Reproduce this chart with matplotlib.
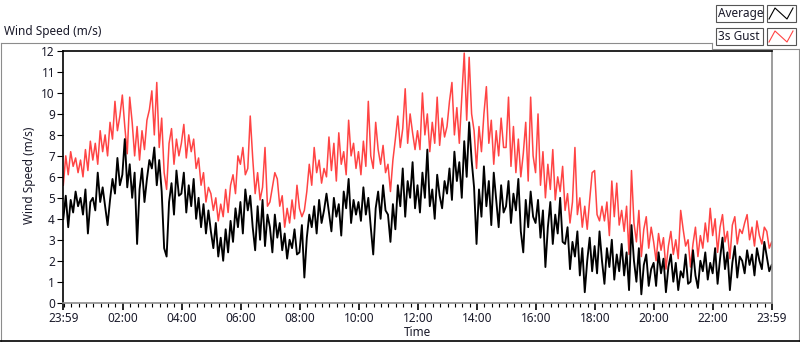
"""Wind speed over one day: 1-minute average vs 3 s gust, LabVIEW-style chart.

Values read off the reference picture at 5-minute steps. Writes out.png.
"""
import numpy as np
import matplotlib
matplotlib.use("Agg")
import matplotlib.pyplot as plt
from matplotlib.patches import Rectangle

W, H = 800, 342
STEP_MIN = 5            # one reading every 5 minutes, starting 23:59

# one row per hour, 12 readings each (m/s)
AVERAGE = [
    4.0, 5.1, 3.6, 4.9, 4.3, 5.3, 4.6, 5.0, 4.2, 5.4, 3.3, 4.8,
    5.0, 4.4, 6.2, 4.8, 5.5, 4.6, 3.7, 4.9, 5.9, 5.2, 6.9, 5.6,
    6.1, 7.8, 5.5, 6.6, 5.0, 6.2, 2.8, 5.4, 6.4, 4.8, 5.9, 6.8,
    6.4, 7.4, 5.6, 6.8, 5.3, 2.6, 2.2, 4.8, 5.7, 4.2, 6.3, 5.1,
    5.2, 6.2, 4.3, 5.6, 4.6, 5.9, 4.0, 5.0, 3.6, 4.7, 3.3, 4.4,
    3.4, 2.6, 3.8, 2.2, 3.1, 2.0, 3.5, 2.4, 3.9, 2.9, 4.5, 3.6,
    4.8, 3.3, 5.4, 4.4, 5.1, 3.6, 2.5, 4.6, 3.0, 4.9, 2.7, 4.2,
    3.6, 2.4, 4.2, 3.1, 3.8, 2.5, 3.3, 2.1, 3.0, 2.6, 3.5, 2.3,
    2.4, 3.7, 1.2, 3.1, 4.2, 3.6, 4.6, 3.3, 4.9, 3.8, 4.4, 5.2,
    4.3, 3.4, 5.0, 4.1, 4.7, 3.2, 5.3, 4.5, 5.9, 3.8, 4.9, 4.2,
    4.8, 3.9, 5.5, 4.2, 5.0, 3.6, 2.3, 4.5, 5.3, 4.0, 5.6, 4.4,
    4.2, 2.9, 4.7, 3.5, 5.6, 4.6, 6.4, 4.1, 5.8, 5.0, 6.7, 4.5,
    5.6, 4.3, 6.2, 5.0, 7.3, 4.6, 5.4, 4.0, 6.1, 5.1, 4.5, 5.8,
    5.2, 6.4, 4.9, 7.2, 5.8, 6.7, 5.0, 7.7, 6.0, 8.6, 6.8, 5.5,
    2.8, 5.4, 4.1, 6.5, 4.6, 5.8, 3.7, 6.2, 4.9, 3.6, 5.6, 4.3,
    4.6, 5.8, 3.8, 5.2, 4.4, 5.9, 3.4, 2.4, 4.9, 3.6, 5.3, 4.1,
    3.8, 4.9, 3.1, 4.4, 1.7, 3.6, 4.8, 2.8, 4.2, 3.3, 5.0, 2.9,
    2.8, 3.6, 1.6, 2.9, 2.2, 3.4, 1.3, 2.6, 0.5, 2.0, 3.1, 1.5,
    2.7, 1.4, 3.4, 2.0, 0.9, 2.6, 1.7, 3.0, 1.1, 2.3, 1.5, 2.8,
    1.3, 2.4, 0.6, 3.7, 2.0, 1.0, 2.6, 0.4, 1.8, 2.3, 0.8, 1.6,
    1.9, 0.8, 2.4, 1.4, 2.1, 0.5, 1.7, 2.3, 1.0, 1.9, 0.6, 1.5,
    1.2, 2.3, 0.9, 1.0, 2.5, 1.3, 0.7, 2.0, 1.5, 2.4, 1.1, 1.9,
    1.4, 2.6, 0.9, 2.1, 3.1, 1.6, 2.4, 0.6, 1.9, 2.7, 1.2, 2.2,
    2.0, 1.4, 2.5, 1.8, 2.3, 1.3, 2.6, 2.0, 1.6, 2.9, 2.2, 1.5,
    1.8,
]
GUST = [
    5.6, 7.0, 6.1, 7.2, 6.5, 6.9, 6.2, 6.8, 6.0, 7.3, 6.3, 7.7,
    6.8, 7.6, 6.6, 8.2, 7.2, 8.0, 7.0, 8.6, 7.8, 9.6, 8.2, 8.9,
    9.9, 8.4, 7.1, 9.8, 8.6, 7.0, 8.4, 6.8, 8.2, 7.3, 8.7, 9.2,
    10.1, 8.0, 10.5, 7.4, 8.8, 6.2, 5.4, 7.6, 8.3, 6.6, 7.8, 7.0,
    7.6, 8.5, 6.9, 8.0, 7.2, 7.8, 6.4, 6.9, 5.6, 6.2, 4.8, 5.5,
    5.2, 4.4, 5.0, 3.9, 4.7, 4.1, 5.4, 4.3, 5.6, 6.1, 5.2, 7.0,
    6.6, 7.4, 6.1, 6.4, 8.9, 6.9, 5.2, 6.2, 4.9, 5.5, 7.4, 4.6,
    4.8, 5.5, 6.2, 5.9, 4.6, 5.1, 3.6, 4.5, 3.8, 4.9, 4.0, 5.6,
    4.5, 4.1, 4.4, 5.3, 6.6, 5.6, 7.4, 6.2, 6.8, 5.7, 6.4, 6.0,
    7.9, 6.3, 7.6, 5.8, 8.1, 6.6, 7.2, 6.1, 8.7, 7.0, 7.6, 6.4,
    7.2, 6.1, 7.7, 6.5, 9.6, 7.0, 6.4, 8.6, 7.3, 6.6, 7.5, 6.2,
    6.6, 5.3, 6.8, 7.8, 8.9, 7.4, 8.3, 10.2, 7.6, 9.0, 8.1, 7.3,
    8.2, 7.3, 10.0, 8.0, 9.0, 7.2, 8.6, 7.6, 9.8, 7.5, 8.8, 7.9,
    8.4, 9.6, 10.5, 8.0, 9.3, 7.6, 9.8, 11.9, 8.7, 11.7, 9.0, 8.2,
    6.4, 8.4, 7.2, 9.0, 10.3, 7.6, 8.7, 6.6, 8.2, 7.0, 8.8, 7.4,
    7.4, 9.8, 6.5, 8.4, 6.2, 7.8, 6.0, 7.1, 8.6, 5.8, 9.8, 7.0,
    6.2, 9.0, 5.6, 7.2, 5.0, 6.6, 5.4, 7.3, 4.9, 6.0, 5.3, 6.5,
    4.4, 5.2, 3.8, 4.8, 7.4, 4.2, 5.0, 3.6, 4.6, 3.5, 4.9, 6.2,
    6.3, 4.2, 3.9, 4.6, 3.9, 4.8, 3.2, 5.8, 4.1, 5.7, 3.7, 4.4,
    3.4, 4.6, 2.3, 6.3, 3.8, 2.9, 4.4, 2.2, 3.5, 4.1, 2.6, 3.6,
    2.9, 2.0, 3.3, 2.5, 3.1, 1.6, 2.7, 3.4, 2.3, 3.0, 2.1, 4.4,
    3.5, 2.7, 3.0, 1.7, 2.8, 3.6, 2.2, 3.2, 2.6, 3.8, 2.9, 4.5,
    3.2, 4.0, 2.4, 3.6, 4.2, 2.9, 3.4, 2.1, 3.7, 4.1, 2.8, 3.5,
    3.3, 3.8, 4.2, 3.0, 3.6, 2.7, 3.9, 3.2, 2.8, 3.6, 3.4, 2.6,
    2.9,
]
TICK_MIN = [0, 121, 241, 361, 481, 601, 721, 841, 961, 1081, 1201, 1321, 1440]
TICK_LABELS = ["23:59", "02:00", "04:00", "06:00", "08:00", "10:00", "12:00",
               "14:00", "16:00", "18:00", "20:00", "22:00", "23:59"]

RED = "#FF4444"
GRAY = "#8C8C8C"
TXT = "#1A1A2A"
FS = 8.5

plt.rcParams["font.family"] = ["Noto Sans", "DejaVu Sans"]

fig = plt.figure(figsize=(W / 100, H / 100), dpi=100, facecolor="white")

# plot area in pixels: x 63..772, y 51..303
L, R, T, B = 63.3, 771.7, 51.0, 302.7
ax = fig.add_axes([L / W, 1 - B / H, (R - L) / W, (B - T) / H])

t = np.arange(len(AVERAGE)) * STEP_MIN
ax.plot(t, GUST, color=RED, lw=1.1)
ax.plot(t, AVERAGE, color="black", lw=1.35)

ax.set_xlim(0, 1440)
ax.set_ylim(0, 12)
ax.set_yticks(range(0, 13))
ax.set_xticks(TICK_MIN)
ax.set_xticklabels(TICK_LABELS)
ax.set_xticks(np.arange(1, 1440, 15), minor=True)
for s in ("top", "left"):
    ax.spines[s].set_color("black")
    ax.spines[s].set_linewidth(1.2)
for s in ("bottom", "right"):
    ax.spines[s].set_color(GRAY)
    ax.spines[s].set_linewidth(1.2)
ax.tick_params(axis="y", direction="out", length=4, width=0.8, pad=2,
               labelsize=FS, color="black", labelcolor=TXT)
ax.tick_params(axis="x", which="major", direction="out", length=5, width=1.2,
               pad=2, labelsize=FS, color="black", labelcolor=TXT)
ax.tick_params(axis="x", which="minor", direction="out", length=3, width=0.8,
               color="black")

# overlay in pixel coordinates for the frame, labels and legend
ov = fig.add_axes([0, 0, 1, 1])
ov.set_xlim(0, W)
ov.set_ylim(H, 0)
ov.axis("off")

lw = 0.8
ov.plot([0.5, 711.5], [42.5, 42.5], color=GRAY, lw=lw)
ov.plot([0.5, 0.5], [42.5, 341.5], color=GRAY, lw=lw)
ov.plot([711.5, 711.5], [42.5, 48.5], color=GRAY, lw=lw)
ov.plot([711.5, 800], [48.5, 48.5], color=GRAY, lw=lw)
ov.plot([798.5, 798.5], [48.5, 341.5], color=GRAY, lw=lw)
ov.plot([0, 800], [341.2, 341.2], color="black", lw=1.2)

ov.text(4, 32, "Wind Speed (m/s)", fontsize=FS, color=TXT, ha="left", va="center")
ov.text(30, 175, "Wind Speed (m/s)", fontsize=FS, color=TXT, rotation=90,
        ha="center", va="center")
ov.text(417, 333, "Time", fontsize=FS, color=TXT, ha="center", va="center")

for row, (name, col) in enumerate([("Average", "black"), ("3s Gust", RED)]):
    y0 = 4.5 + row * 23
    ov.add_patch(Rectangle((715.5, y0), 47, 17, facecolor="white",
                           edgecolor="#555555", lw=0.8))
    ov.text(717.5, y0 + 8.5, name, fontsize=FS, color=TXT, ha="left", va="center")
    ov.add_patch(Rectangle((766.5, y0), 29, 17, facecolor="white",
                           edgecolor="#555555", lw=0.8))
    ov.plot([769, 775, 787, 793], [y0 + 14.5, y0 + 3.5, y0 + 14.5, y0 + 3.5],
            color=col, lw=0.8)

fig.savefig("out.png", dpi=100, facecolor="white")
